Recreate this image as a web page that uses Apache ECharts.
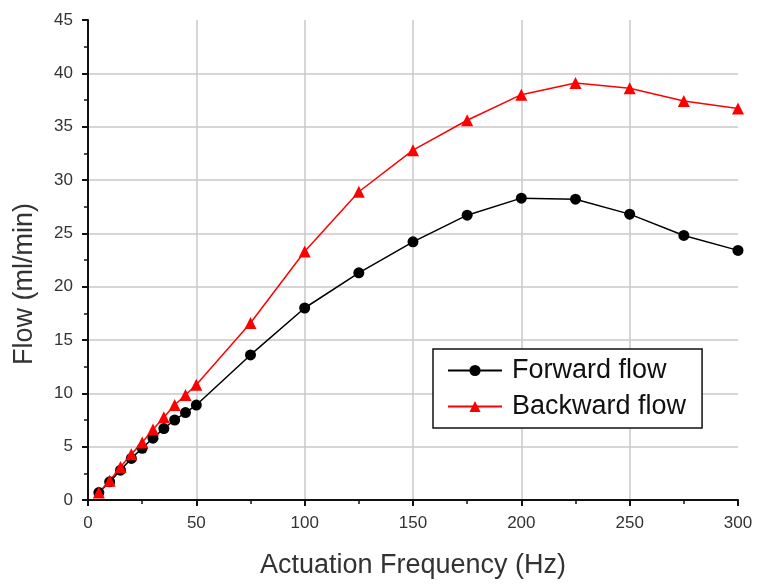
<!DOCTYPE html>
<html><head><meta charset="utf-8">
<script src="https://cdn.jsdelivr.net/npm/echarts@6/dist/echarts.min.js"></script>
<style>html,body{margin:0;padding:0;background:#fff}#c{width:758px;height:585px}</style>
</head><body><div id="c"></div>
<script>
const freq = [5,10,15,20,25,30,35,40,45,50,75,100,125,150,175,200,225,250,275,300];
const forwardFlow = [0.7,1.7,2.8,3.9,4.85,5.8,6.7,7.5,8.2,8.9,13.6,18.0,21.3,24.2,26.7,28.3,28.2,26.8,24.8,23.4];
const backwardFlow = [0.7,1.8,3.1,4.3,5.4,6.6,7.75,8.9,9.85,10.8,16.6,23.3,28.9,32.8,35.6,38.0,39.1,38.6,37.4,36.7];
const xLabel = 'Actuation Frequency (Hz)';
const yLabel = 'Flow (ml/min)';
const font = 'Liberation Sans, Arial, sans-serif';
const chart = echarts.init(document.getElementById('c'));
const axisCommon = {
  axisLine:{show:true,onZero:false,lineStyle:{color:'#111',width:2}},
  axisTick:{show:true,inside:false,length:6,lineStyle:{color:'#111',width:2}},
  minorTick:{show:true,splitNumber:2,length:4,lineStyle:{color:'#111',width:1.5}},
  splitLine:{show:true,showMinLine:false,showMaxLine:false,lineStyle:{color:'#c8c8c8',width:1.5}},
  axisLabel:{color:'#333',fontFamily:font,fontSize:17,margin:15},
  nameTextStyle:{color:'#333',fontFamily:font,fontSize:27}
};
chart.setOption({
  animation:false,
  grid:{left:88,right:20,top:20,bottom:85,containLabel:false},
  xAxis:Object.assign({},axisCommon,{type:'value',min:0,max:300,interval:50,
    name:xLabel,nameLocation:'middle',nameGap:52}),
  yAxis:Object.assign({},axisCommon,{type:'value',min:0,max:45,interval:5}),
  graphic:[{type:'text',x:25,y:284,rotation:Math.PI/2,
    style:{text:yLabel,fill:'#333',font:'27px '+font,align:'center',verticalAlign:'middle'}}],
  legend:{orient:'vertical',left:433,top:349,
    padding:[8,16,8,14],itemGap:9,itemWidth:54,itemHeight:14,
    borderColor:'#111',borderWidth:1.5,backgroundColor:'#fff',
    textStyle:{fontFamily:font,fontSize:27,color:'#111',padding:[0,0,0,5]},
    data:['Forward flow','Backward flow']},
  series:[
    {name:'Forward flow',type:'line',data:freq.map((f,i)=>[f,forwardFlow[i]]),
     symbol:'circle',symbolSize:11,lineStyle:{color:'#000',width:1.5},itemStyle:{color:'#000'}},
    {name:'Backward flow',type:'line',data:freq.map((f,i)=>[f,backwardFlow[i]]),
     symbol:'triangle',symbolSize:12,lineStyle:{color:'#ff0000',width:1.5},itemStyle:{color:'#ff0000'}}
  ]
});
</script></body></html>
